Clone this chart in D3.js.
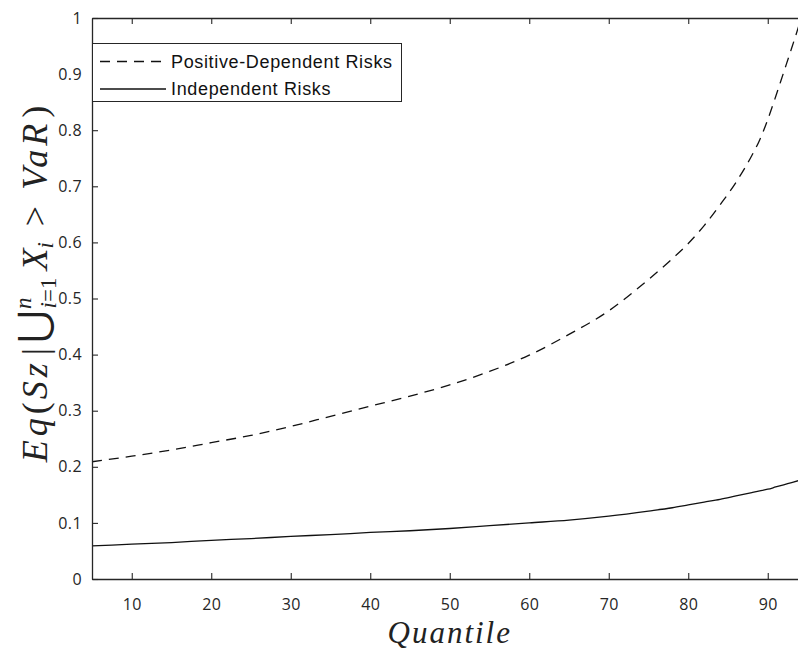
<!DOCTYPE html>
<html>
<head>
<meta charset="utf-8">
<script src="https://cdn.jsdelivr.net/npm/d3@7"></script>
<style>
  html, body { margin: 0; padding: 0; background: #fff; }
  svg { display: block; }
</style>
</head>
<body>
<svg id="chart" width="798" height="653"></svg>
<script>
// ---- data ----
const quantiles = [5, 10, 15, 20, 25, 30, 35, 40, 45, 50, 55, 60, 65, 70, 75, 78, 80, 82, 84, 86, 88, 89, 90, 91, 92, 93, 94];
const positiveDependent = [0.209, 0.219, 0.230, 0.243, 0.256, 0.272, 0.290, 0.308, 0.326, 0.346, 0.370, 0.399, 0.436, 0.478, 0.534, 0.571, 0.598, 0.630, 0.667, 0.707, 0.755, 0.783, 0.819, 0.860, 0.903, 0.946, 0.990];
const independent = [0.059, 0.062, 0.065, 0.069, 0.072, 0.076, 0.079, 0.083, 0.086, 0.090, 0.095, 0.100, 0.105, 0.112, 0.121, 0.127, 0.132, 0.137, 0.142, 0.148, 0.154, 0.157, 0.160, 0.164, 0.168, 0.172, 0.176];
const xTicks = [10, 20, 30, 40, 50, 60, 70, 80, 90];
const yTicks = [0, 0.1, 0.2, 0.3, 0.4, 0.5, 0.6, 0.7, 0.8, 0.9, 1];
const seriesNames = ["Positive-Dependent Risks", "Independent Risks"];

(function () {
// ---- layout ----
const mLeft = 92, mTop = 18, mBottom = 579;
const pxPerUnit = 7.95;
const xDomain = [5, 95];
const mRight = mLeft + (xDomain[1] - xDomain[0]) * pxPerUnit;
const axisColor = "#262626";
const dashPattern = "10,7";

const svg = d3.select("#chart");
const x = d3.scaleLinear().domain(xDomain).range([mLeft, mRight]);
const y = d3.scaleLinear().domain([0, 1]).range([mBottom, mTop]);

// lines
const line = d3.line().x(d => x(d[0])).y(d => y(d[1])).curve(d3.curveMonotoneX);
const dep = quantiles.map((q, i) => [q, positiveDependent[i]]);
const ind = quantiles.map((q, i) => [q, independent[i]]);

svg.append("path").datum(dep).attr("d", line)
  .attr("fill", "none").attr("stroke", "#111").attr("stroke-width", 1.3)
  .attr("stroke-dasharray", dashPattern);
svg.append("path").datum(ind).attr("d", line)
  .attr("fill", "none").attr("stroke", "#111").attr("stroke-width", 1.3);

// axes
const tickFont = "'Open Sans', 'Noto Sans', sans-serif";
const xAxis = d3.axisBottom(x).tickValues(xTicks).tickSizeInner(-6).tickSizeOuter(0).tickPadding(20).tickFormat(d3.format("d"));
const xAxisTop = d3.axisTop(x).tickValues(xTicks).tickSizeInner(-6).tickSizeOuter(0).tickFormat("");
const yAxis = d3.axisLeft(y).tickValues(yTicks).tickSizeInner(-6).tickSizeOuter(0).tickPadding(10).tickFormat(d => d === 0 ? "0" : d === 1 ? "1" : d3.format(".1f")(d));

function style(g) {
  g.selectAll("path.domain").attr("stroke", axisColor).attr("stroke-width", 1.3);
  g.selectAll(".tick line").attr("stroke", axisColor).attr("stroke-width", 1.1);
  g.selectAll(".tick text").attr("fill", axisColor).style("font-family", tickFont)
    .style("font-size", "16px").style("letter-spacing", "0.4px");
}
svg.append("g").attr("transform", `translate(0,${mBottom})`).call(xAxis).call(style);
svg.append("g").attr("transform", `translate(0,${mTop})`).call(xAxisTop).call(style);
svg.append("g").attr("transform", `translate(${mLeft},0)`).call(yAxis).call(style);

// legend
const lg = svg.append("g");
lg.append("rect").attr("x", 92.5).attr("y", 43.5).attr("width", 309).attr("height", 58)
  .attr("fill", "#fff").attr("stroke", axisColor).attr("stroke-width", 1);
const legendRows = [
  { name: seriesNames[0], dash: dashPattern, yy: 61.5 },
  { name: seriesNames[1], dash: null, yy: 89 }
];
legendRows.forEach(r => {
  const l = lg.append("line").attr("x1", 100).attr("x2", 166).attr("y1", r.yy).attr("y2", r.yy)
    .attr("stroke", "#111").attr("stroke-width", 1.3);
  if (r.dash) l.attr("stroke-dasharray", r.dash);
  lg.append("text").attr("x", 171).attr("y", r.yy).attr("dy", "0.35em")
    .style("font-family", "'Liberation Sans', Arial, sans-serif").style("font-size", "18px")
    .style("letter-spacing", "0.65px")
    .attr("fill", "#111").text(r.name);
});

// x label
svg.append("text").attr("x", (mLeft + mRight) / 2).attr("y", 643).attr("text-anchor", "middle")
  .style("font-family", "'Liberation Serif', 'DejaVu Serif', serif").style("font-style", "italic")
  .style("font-size", "31px").style("letter-spacing", "2px").attr("fill", "#222").text("Quantile");

// y label (math)
const yl = svg.append("text").attr("transform", `translate(47,284) rotate(-90)`)
  .attr("text-anchor", "middle")
  .style("font-family", "'Liberation Serif', 'DejaVu Serif', serif").style("font-size", "36px").attr("fill", "#222");
function ts(txt, opt = {}) {
  const t = yl.append("tspan").text(txt).style("font-style", opt.it ? "italic" : "normal");
  if (opt.size) t.style("font-size", opt.size + "px");
  if (opt.dy) t.attr("dy", opt.dy);
  if (opt.dx) t.attr("dx", opt.dx);
  if (opt.ls) t.style("letter-spacing", opt.ls);
  return t;
}
ts("Eq", { it: true, ls: "4px" });
ts("(", { ls: "3px" });
ts("Sz", { it: true, ls: "4px" });
ts("|", { dx: 4 });
ts("\u22C3", { size: 40, dx: 5 });
ts("n", { it: true, size: 23, dy: -16, dx: 1 });
ts("i", { it: true, size: 23, dy: 25, dx: -11 });
ts("=1", { size: 23 });
ts("X", { it: true, dy: -9, dx: 7 });
ts("i", { it: true, size: 23, dy: 6 });
ts(">", { dy: -6, dx: 16 });
ts("VaR", { it: true, dx: 16, ls: "4px" });
ts(")", { dx: 2 });
})();
</script>
</body>
</html>
